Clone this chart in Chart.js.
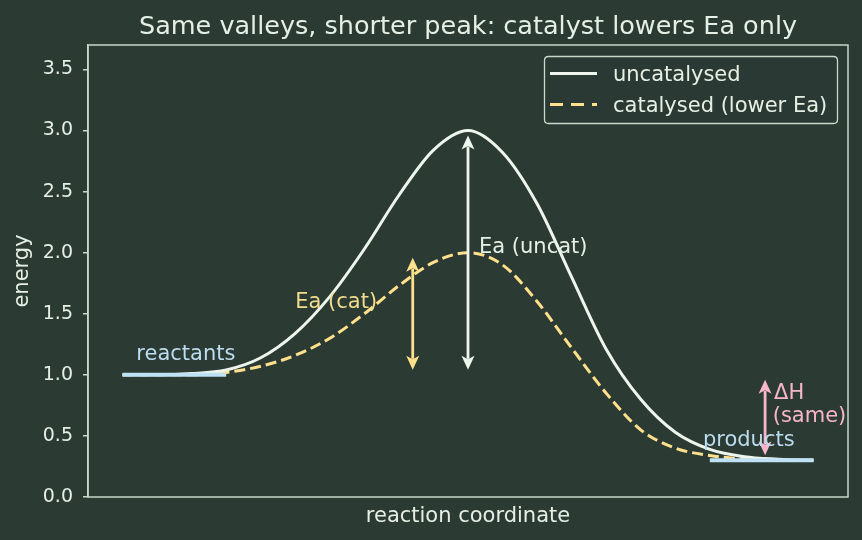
<!DOCTYPE html>
<html><head><meta charset="utf-8">
<script src="https://cdn.jsdelivr.net/npm/chart.js@4.4.0/dist/chart.umd.min.js"></script>
<style>html,body{margin:0;padding:0;background:#2b3a33;}#wrap{width:862px;height:540px;}</style>
</head><body><div id="wrap"><canvas id="c" width="862" height="540"></canvas></div>
<script>
// ---- data ----
const reactionCoordinate = [0,0.5,1,1.5,2,2.5,3,3.5,4,4.5,5,5.5,6,6.5,7,7.5,8,8.5,9,9.5,10];
const uncatalysed = [1.00,1.00,1.01,1.04,1.14,1.34,1.64,2.03,2.47,2.84,3.00,2.82,2.40,1.80,1.21,0.80,0.53,0.39,0.33,0.31,0.30];
const catalysed   = [1.00,1.00,1.00,1.02,1.07,1.16,1.30,1.50,1.73,1.92,2.00,1.90,1.60,1.22,0.85,0.55,0.40,0.34,0.31,0.30,0.30];
const reactantsX = [0, 1.5];
const reactantsE = [1.0, 1.0];
const productsX = [8.5, 10];
const productsE = [0.3, 0.3];
const yTicks = [0,0.5,1.0,1.5,2.0,2.5,3.0,3.5];
const seriesLabels = ['uncatalysed', 'catalysed (lower Ea)'];
const titleText = 'Same valleys, shorter peak: catalyst lowers Ea only';
const xTitle = 'reaction coordinate';
const yTitle = 'energy';
// double arrows: x, from energy, to energy
const arrowX = [5.0, 4.2, 9.3];
const arrowFrom = [1.0, 1.0, 0.3];
const arrowTo = [3.0, 2.0, 1.0];
// text notes (data coordinates of baseline-left)
const noteTexts = ['Ea (uncat)', 'Ea (cat)', 'reactants', 'products', 'ΔH', '(same)'];
const noteX = [5.16, 2.50, 0.20, 8.40, 9.43, 9.41];
const noteY = [2.00, 1.55, 1.12, 0.42, 0.80, 0.61];

// ---- styles ----
const BG = '#2b3a33';
const SPINE = '#c6d9ca';
const TXT = '#e6efe4';
const WHITE = '#eef5ec';
const YELLOW = '#ffe08c';
const BLUE = '#bfe1f5';
const PINK = '#f7b6c9';
const FONT = '"DejaVu Sans", sans-serif';
const arrowColors = [WHITE, YELLOW, PINK];
const noteColors = [TXT, '#f2dc8e', '#bcdcef', '#bcdcef', PINK, PINK];

const pts = (xs, ys) => xs.map((x, i) => ({x: x, y: ys[i]}));

const deco = {
  id: 'deco',
  beforeDraw(chart) {
    const c = chart.ctx;
    c.save(); c.fillStyle = BG; c.fillRect(0, 0, chart.width, chart.height); c.restore();
  },
  afterDraw(chart) {
    const c = chart.ctx, a = chart.chartArea;
    const xs = chart.scales.x, ys = chart.scales.y;
    c.save();
    // frame
    c.strokeStyle = SPINE; c.lineWidth = 1.5;
    c.strokeRect(a.left, a.top, a.right - a.left, a.bottom - a.top);
    // title
    c.fillStyle = TXT; c.textAlign = 'center'; c.textBaseline = 'alphabetic';
    c.font = '25.5px ' + FONT;
    c.fillText(titleText, (a.left + a.right) / 2, 34);
    // axis titles
    c.font = '21px ' + FONT;
    c.fillText(xTitle, (a.left + a.right) / 2, 522);
    c.save(); c.translate(28, (a.top + a.bottom) / 2); c.rotate(-Math.PI / 2);
    c.fillText(yTitle, 0, 0); c.restore();
    // arrows
    const shrink = 5, hl = 14, hw = 6.5;
    arrowX.forEach((xv, i) => {
      const px = xs.getPixelForValue(xv);
      const y0 = ys.getPixelForValue(arrowFrom[i]) - shrink;
      const y1 = ys.getPixelForValue(arrowTo[i]) + shrink;
      c.strokeStyle = arrowColors[i]; c.fillStyle = arrowColors[i]; c.lineWidth = 2.8;
      c.beginPath(); c.moveTo(px, y0 - hl + 3); c.lineTo(px, y1 + hl - 3); c.stroke();
      c.beginPath(); c.moveTo(px, y1); c.lineTo(px - hw, y1 + hl); c.lineTo(px, y1 + hl - 3.5); c.lineTo(px + hw, y1 + hl); c.closePath(); c.fill();
      c.beginPath(); c.moveTo(px, y0); c.lineTo(px - hw, y0 - hl); c.lineTo(px, y0 - hl + 3.5); c.lineTo(px + hw, y0 - hl); c.closePath(); c.fill();
    });
    // notes
    c.font = '21px ' + FONT; c.textAlign = 'left'; c.textBaseline = 'alphabetic';
    noteTexts.forEach((t, i) => {
      c.fillStyle = noteColors[i];
      c.fillText(t, xs.getPixelForValue(noteX[i]), ys.getPixelForValue(noteY[i]));
    });
    // legend
    const lx = 544.5, ly = 56.5, lw = 293, lh = 67, r = 4;
    c.beginPath();
    c.moveTo(lx + r, ly); c.lineTo(lx + lw - r, ly); c.quadraticCurveTo(lx + lw, ly, lx + lw, ly + r);
    c.lineTo(lx + lw, ly + lh - r); c.quadraticCurveTo(lx + lw, ly + lh, lx + lw - r, ly + lh);
    c.lineTo(lx + r, ly + lh); c.quadraticCurveTo(lx, ly + lh, lx, ly + lh - r);
    c.lineTo(lx, ly + r); c.quadraticCurveTo(lx, ly, lx + r, ly); c.closePath();
    c.fillStyle = 'rgba(43,58,51,0.8)'; c.fill();
    c.strokeStyle = SPINE; c.lineWidth = 1.3; c.stroke();
    const rows = [73.5, 104.5];
    const legendDash = [[], [13, 8]];
    const curves = chart.data.datasets.filter(d => seriesLabels.includes(d.label));
    curves.forEach((ds, i) => {
      c.strokeStyle = ds.borderColor; c.lineWidth = ds.borderWidth;
      c.setLineDash(legendDash[i]);
      c.beginPath(); c.moveTo(550, rows[i]); c.lineTo(597, rows[i]); c.stroke();
      c.setLineDash([]);
      c.fillStyle = TXT; c.font = '21px ' + FONT;
      c.fillText(ds.label, 613, rows[i] + 7.5);
    });
    c.restore();
  }
};

new Chart(document.getElementById('c'), {
  type: 'line',
  data: {
    datasets: [
      {label: 'reactants', data: pts(reactantsX, reactantsE), borderColor: BLUE, borderWidth: 4, pointRadius: 0},
      {label: 'products', data: pts(productsX, productsE), borderColor: BLUE, borderWidth: 4, pointRadius: 0},
      {label: seriesLabels[0], data: pts(reactionCoordinate, uncatalysed), borderColor: WHITE, borderWidth: 3,
       pointRadius: 0, cubicInterpolationMode: 'monotone', fill: false},
      {label: seriesLabels[1], data: pts(reactionCoordinate, catalysed), borderColor: YELLOW, borderWidth: 3,
       borderDash: [11, 5], pointRadius: 0, cubicInterpolationMode: 'monotone', fill: false}
    ]
  },
  options: {
    responsive: false, devicePixelRatio: 1, animation: false,
    layout: {padding: {top: 45, right: 14, left: 0, bottom: 0}},
    plugins: {legend: {display: false}, title: {display: false}, tooltip: {enabled: false}},
    scales: {
      x: {type: 'linear', min: -0.5, max: 10.5,
          ticks: {display: false}, grid: {display: false}, border: {display: false},
          afterFit: s => { s.height = 43; }},
      y: {type: 'linear', min: 0, max: 3.7,
          afterBuildTicks: s => { s.ticks = yTicks.map(v => ({value: v})); },
          ticks: {color: TXT, font: {family: FONT, size: 19}, padding: 10,
                  callback: v => Number(v).toFixed(1)},
          grid: {display: true, drawOnChartArea: false, drawTicks: true, tickLength: 5, color: SPINE, lineWidth: 1.5},
          border: {display: true, color: SPINE, width: 1.5},
          afterFit: s => { s.width = 88; }}
    }
  },
  plugins: [deco]
});
</script></body></html>
